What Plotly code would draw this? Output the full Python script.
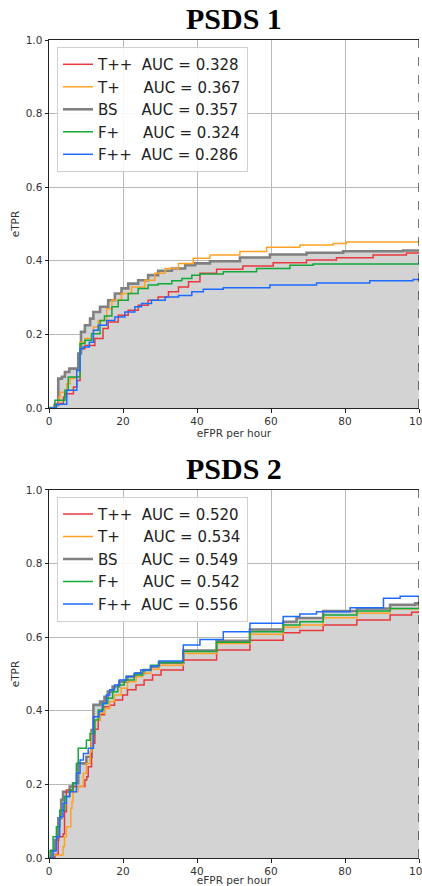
import plotly.graph_objects as go
from plotly.subplots import make_subplots

# ---------------- data ----------------
series_names = ["T++", "T+", "BS", "F+", "F++"]
auc_psds1 = ["0.328", "0.367", "0.357", "0.324", "0.286"]
auc_psds2 = ["0.520", "0.534", "0.549", "0.542", "0.556"]
x_ticks = [0, 20, 40, 60, 80, 100]
y_ticks = [0.0, 0.2, 0.4, 0.6, 0.8, 1.0]

# PSDS 1
p1_tpp_x = [0, 1.6, 3.9, 4.3, 6.6, 7.5, 8.4, 9.7, 12.4, 14.6, 16.0, 18.7, 21.4, 24.1, 26.8, 29.5, 32.3, 35.0, 37.7, 40.8, 45.3, 52.4, 60.6, 69.6, 77.7, 87.6, 96.6, 100]
p1_tpp_y = [0, 0.012, 0.03, 0.039, 0.057, 0.075, 0.161, 0.17, 0.189, 0.216, 0.234, 0.252, 0.266, 0.279, 0.293, 0.302, 0.316, 0.329, 0.343, 0.366, 0.377, 0.386, 0.395, 0.402, 0.408, 0.416, 0.421, 0.421]
p1_tp_x = [0, 1.9, 2.7, 3.0, 4.8, 5.7, 7.0, 8.4, 9.7, 12.0, 13.3, 15.6, 17.0, 19.6, 22.3, 25.9, 28.6, 31.4, 35.0, 39.0, 43.5, 51.6, 58.8, 67.8, 76.8, 80.4, 100]
p1_tp_y = [0, 0.01, 0.03, 0.043, 0.066, 0.08, 0.085, 0.179, 0.189, 0.22, 0.238, 0.27, 0.293, 0.311, 0.329, 0.347, 0.366, 0.379, 0.393, 0.407, 0.416, 0.425, 0.437, 0.443, 0.447, 0.451, 0.451]
p1_bs_x = [0, 1.5, 2.5, 3.5, 4.3, 5.5, 7.9, 8.65, 9.7, 11.1, 12.0, 13.8, 16.0, 17.8, 19.6, 21.4, 24.1, 26.8, 29.5, 33.2, 36.8, 39.5, 43.5, 51.6, 59.7, 69.6, 79.5, 95.7, 100]
p1_bs_y = [0, 0.008, 0.08, 0.085, 0.098, 0.107, 0.148, 0.207, 0.225, 0.243, 0.261, 0.275, 0.293, 0.311, 0.325, 0.338, 0.347, 0.361, 0.373, 0.379, 0.388, 0.393, 0.399, 0.409, 0.417, 0.422, 0.426, 0.428, 0.428]
p1_fp_x = [0, 1.6, 4.3, 5.2, 8.4, 9.7, 11.5, 13.8, 15.0, 17.0, 18.7, 21.4, 24.1, 26.8, 29.5, 33.2, 35.9, 38.6, 40.8, 47.1, 56.1, 65.1, 71.4, 100]
p1_fp_y = [0, 0.021, 0.048, 0.084, 0.175, 0.184, 0.202, 0.238, 0.25, 0.275, 0.293, 0.311, 0.325, 0.334, 0.338, 0.346, 0.352, 0.361, 0.364, 0.370, 0.379, 0.388, 0.391, 0.391]
p1_fpp_x = [0, 2.0, 4.8, 7.5, 8.4, 9.2, 10.9, 12.0, 13.3, 15.6, 17.8, 20.5, 23.2, 25.0, 27.7, 31.4, 35.0, 38.6, 41.7, 47.1, 59.7, 72.3, 86.7, 98.4, 100]
p1_fpp_y = [0, 0.01, 0.048, 0.102, 0.161, 0.166, 0.179, 0.211, 0.225, 0.238, 0.247, 0.261, 0.275, 0.284, 0.293, 0.302, 0.306, 0.316, 0.323, 0.327, 0.334, 0.340, 0.346, 0.349, 0.349]

# PSDS 2
p2_tpp_x = [0, 1.6, 2.5, 3.8, 4.2, 4.7, 6.5, 9.7, 10.2, 10.6, 11.5, 12.4, 13.3, 13.8, 15.0, 16.4, 17.7, 19.9, 21.2, 23.5, 25.7, 28.0, 30.3, 36.3, 45.3, 54.3, 63.3, 67.8, 74.1, 83.2, 92.2, 98.0, 100]
p2_tpp_y = [0, 0.01, 0.058, 0.065, 0.126, 0.185, 0.194, 0.212, 0.221, 0.248, 0.312, 0.35, 0.375, 0.389, 0.411, 0.415, 0.429, 0.443, 0.457, 0.47, 0.484, 0.497, 0.511, 0.538, 0.565, 0.592, 0.612, 0.618, 0.633, 0.647, 0.660, 0.668, 0.671]
p2_tp_x = [0, 1.1, 3.8, 4.2, 4.7, 5.9, 6.2, 6.5, 7.9, 9.3, 10.1, 11.1, 11.5, 12.4, 13.8, 15.0, 16.4, 17.7, 19.5, 21.2, 23.5, 25.3, 27.5, 29.7, 36.3, 45.3, 54.3, 63.3, 67.8, 74.1, 83.2, 92.2, 100]
p2_tp_y = [0, 0.008, 0.031, 0.058, 0.085, 0.135, 0.153, 0.18, 0.194, 0.23, 0.257, 0.289, 0.34, 0.375, 0.393, 0.406, 0.425, 0.443, 0.461, 0.479, 0.493, 0.502, 0.513, 0.524, 0.556, 0.583, 0.608, 0.627, 0.633, 0.653, 0.665, 0.677, 0.686]
p2_bs_x = [0, 0.7, 1.6, 2.5, 3.3, 3.8, 5.6, 6.5, 7.9, 10.1, 11.5, 12.0, 13.8, 15.0, 15.9, 17.2, 19.0, 21.2, 23.5, 25.7, 27.5, 29.7, 36.3, 45.3, 54.3, 63.3, 66.9, 74.1, 83.2, 92.2, 99.0, 100]
p2_bs_y = [0, 0.02, 0.049, 0.108, 0.158, 0.18, 0.194, 0.203, 0.257, 0.275, 0.348, 0.416, 0.425, 0.438, 0.452, 0.466, 0.479, 0.493, 0.502, 0.511, 0.52, 0.531, 0.564, 0.590, 0.621, 0.642, 0.652, 0.671, 0.678, 0.688, 0.692, 0.692]
p2_fp_x = [0, 0.3, 1.1, 2.0, 2.9, 4.2, 5.6, 6.5, 7.4, 7.9, 10.1, 11.1, 12.4, 13.3, 14.7, 15.9, 17.2, 18.6, 20.3, 23.0, 25.3, 27.5, 29.7, 36.3, 45.3, 54.3, 63.3, 67.8, 74.1, 83.2, 92.2, 100]
p2_fp_y = [0, 0.02, 0.058, 0.085, 0.13, 0.167, 0.185, 0.203, 0.257, 0.298, 0.32, 0.338, 0.375, 0.402, 0.42, 0.434, 0.452, 0.47, 0.484, 0.497, 0.511, 0.524, 0.531, 0.561, 0.586, 0.615, 0.633, 0.642, 0.660, 0.671, 0.678, 0.682]
p2_fpp_x = [0, 1.1, 2.0, 2.9, 3.8, 4.7, 5.6, 7.4, 8.4, 9.3, 10.6, 12.0, 13.5, 14.4, 15.5, 16.4, 17.7, 19.0, 20.8, 23.0, 24.8, 27.5, 29.7, 36.3, 40.8, 47.1, 54.3, 63.3, 67.8, 72.3, 81.4, 90.4, 94.9, 100]
p2_fpp_y = [0, 0.02, 0.058, 0.112, 0.149, 0.167, 0.18, 0.23, 0.266, 0.284, 0.298, 0.384, 0.398, 0.42, 0.443, 0.457, 0.47, 0.484, 0.493, 0.502, 0.511, 0.522, 0.535, 0.579, 0.594, 0.615, 0.638, 0.656, 0.663, 0.669, 0.680, 0.706, 0.711, 0.711]

# ---------------- style ----------------
colors = ["#e8383d", "#ffa126", "#808080", "#12a83a", "#1e6bff"]
widths = [1.5, 1.5, 2.6, 1.5, 1.5]
draw_order = [2, 0, 1, 3, 4]
NB = "\u00a0"
FS = "\u2007"
pads = [NB * 2, FS * 2 + NB, FS * 2 + NB, FS * 2 + NB, NB * 2]

panels = [
    dict(row=1, legend="legend", aucs=auc_psds1,
         xs=[p1_tpp_x, p1_tp_x, p1_bs_x, p1_fp_x, p1_fpp_x],
         ys=[p1_tpp_y, p1_tp_y, p1_bs_y, p1_fp_y, p1_fpp_y]),
    dict(row=2, legend="legend2", aucs=auc_psds2,
         xs=[p2_tpp_x, p2_tp_x, p2_bs_x, p2_fp_x, p2_fpp_x],
         ys=[p2_tpp_y, p2_tp_y, p2_bs_y, p2_fp_y, p2_fpp_y]),
]

fig = make_subplots(rows=2, cols=1, vertical_spacing=0.1002)

for p in panels:
    r = p["row"]
    # grey filled area under baseline
    fig.add_trace(go.Scatter(x=p["xs"][2], y=p["ys"][2], mode="lines", line_shape="hv",
                             line=dict(width=0, color="rgba(0,0,0,0)"), fill="tozeroy",
                             fillcolor="#d3d3d3", showlegend=False, hoverinfo="skip"),
                  row=r, col=1)
    for i in draw_order:
        fig.add_trace(go.Scatter(
            x=p["xs"][i], y=p["ys"][i], mode="lines", line_shape="hv",
            line=dict(color=colors[i], width=widths[i]),
            name=series_names[i] + pads[i] + "AUC = " + p["aucs"][i],
            legend=p["legend"], legendrank=i + 1), row=r, col=1)
    fig.add_shape(type="line", x0=100, x1=100, y0=0, y1=1, xref="x" if r == 1 else "x2",
                  yref="y" if r == 1 else "y2",
                  line=dict(color="#222", width=1.2, dash="dash"))

axis_font = dict(family="DejaVu Sans", size=10.5, color="#333")
for r in (1, 2):
    fig.update_xaxes(range=[0, 100], tickvals=x_ticks, ticks="outside", ticklen=3.5, tickwidth=0.8,
                     tickcolor="#222", showline=True, linecolor="#222", linewidth=1, mirror=True,
                     showgrid=True, gridcolor="#b8b8b8", gridwidth=0.8, zeroline=False, automargin=False,
                     ticklabeloverflow="allow",
                     tickfont=axis_font, title=dict(text="eFPR per hour", font=axis_font, standoff=2),
                     row=r, col=1)
    fig.update_yaxes(range=[0, 1], tickvals=y_ticks, tickformat=".1f", ticks="outside", ticklen=3.5,
                     tickwidth=0.8, tickcolor="#222", showline=True, linecolor="#222", linewidth=1,
                     mirror=False, showgrid=True, gridcolor="#b8b8b8", gridwidth=0.8, zeroline=False,
                     automargin=False,
                     tickfont=axis_font, title=dict(text="eTPR", font=axis_font, standoff=4),
                     row=r, col=1)

legend_style = dict(bgcolor="rgba(255,255,255,0.9)", bordercolor="#d0d0d0", borderwidth=1,
                    font=dict(family="DejaVu Sans", size=15, color="#222"),
                    xanchor="left", yanchor="top", tracegroupgap=0, itemwidth=30)
fig.update_layout(
    width=422, height=886, plot_bgcolor="white", paper_bgcolor="white",
    margin=dict(l=49, r=3, t=40, b=28, autoexpand=False),
    legend=dict(x=0.0216, y=0.9914, **legend_style),
    legend2=dict(x=0.0216, y=0.4417, **legend_style),
    annotations=[
        dict(text="<b>PSDS 1</b>", x=0.5, y=1.0257, xref="paper", yref="paper", showarrow=False,
             xanchor="center", yanchor="middle", font=dict(family="Liberation Serif", size=30, color="black")),
        dict(text="<b>PSDS 2</b>", x=0.5, y=0.4756, xref="paper", yref="paper", showarrow=False,
             xanchor="center", yanchor="middle", font=dict(family="Liberation Serif", size=30, color="black")),
    ],
)

fig.write_html("out.html", config={"displayModeBar": False},
               post_script="document.body.style.margin='0';document.body.style.overflow='hidden';")
